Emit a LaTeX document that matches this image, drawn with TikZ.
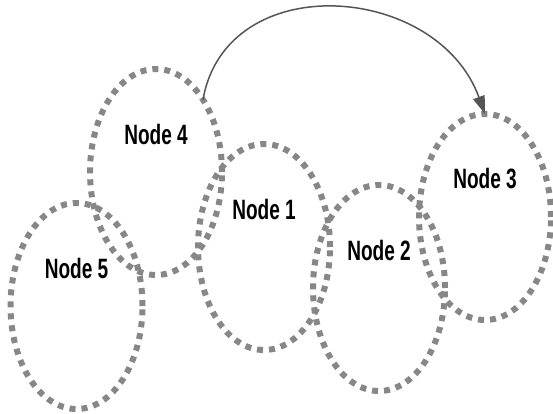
\documentclass[tikz,border=0pt]{standalone}
\usepackage{fontspec}
\newfontfamily\nodefont[FakeStretch=0.68]{Liberation Sans}
\usetikzlibrary{arrows.meta,shapes.geometric}
\definecolor{dotgray}{HTML}{878787}
\definecolor{arrowgray}{HTML}{555555}

\begin{document}
\begin{tikzpicture}[line join=round,>={Triangle[length=18pt,width=12pt]},x=1.0pt,y=1.0pt,
  blob/.style={ellipse,draw=dotgray,line width=6pt,dash pattern=on 6pt off 6pt,
    minimum width=132pt,minimum height=206pt,inner sep=0pt,outer sep=0pt},
  blobtext/.style={font=\nodefont\bfseries\fontsize{28}{30}\selectfont,text=black,yshift=38pt}]
\useasboundingbox (0,0) rectangle (553,414);
\node[blob,label={[blobtext]center:Node 4}] (n4) at (156,242) {};
\node[blob,label={[blobtext]center:Node 5}] (n5) at (76.5,108) {};
\node[blob,label={[blobtext]center:Node 1}] (n1) at (264,167) {};
\node[blob,label={[blobtext]center:Node 2}] (n2) at (379,126) {};
\node[blob,label={[blobtext]center:Node 3}] (n3) at (485,197) {};
\draw[->,line width=1.5pt,draw=arrowgray] (n4.57) .. controls +(80:134) and +(110:140) .. (n3.north);
\end{tikzpicture}
\end{document}
